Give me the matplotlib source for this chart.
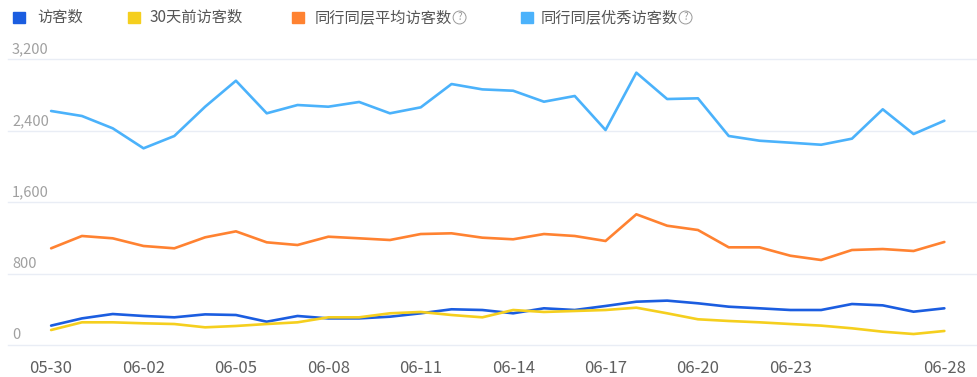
import matplotlib
matplotlib.use('Agg')
import matplotlib.pyplot as plt
import matplotlib.transforms as mtransforms

plt.rcParams['font.family'] = ['Noto Sans CJK SC', 'DejaVu Sans']

dates = ['05-30', '05-31'] + ['06-%02d' % d for d in range(1, 29)]
shown = ['05-30', '06-02', '06-05', '06-08', '06-11', '06-14', '06-17',
         '06-20', '06-23', '06-28']

visitors = [217, 298, 347, 325, 310, 343, 336, 261, 325, 298,
            298, 317, 355, 400, 392, 355, 411, 392, 437, 485,
            497, 467, 429, 411, 392, 392, 459, 444, 373, 411]
visitors_30d = [168, 254, 254, 243, 235, 198, 213, 235, 254, 310,
                310, 355, 370, 336, 310, 392, 370, 381, 392, 418,
                355, 288, 269, 254, 235, 217, 187, 149, 123, 157]
peer_avg = [1083, 1221, 1195, 1109, 1083, 1206, 1273, 1150, 1120, 1213,
            1195, 1176, 1243, 1251, 1202, 1184, 1243, 1221, 1165, 1464,
            1336, 1288, 1094, 1094, 1000, 952, 1064, 1075, 1053, 1154]
peer_top = [2621, 2565, 2427, 2203, 2341, 2669, 2960, 2595, 2688, 2669,
            2722, 2595, 2662, 2923, 2863, 2848, 2725, 2789, 2408, 3050,
            2755, 2763, 2341, 2288, 2266, 2243, 2311, 2640, 2363, 2512]

names = ['访客数', '30天前访客数', '同行同层平均访客数', '同行同层优秀访客数']
colors = ['#1b5de0', '#f5cf1e', '#ff8231', '#4bb2fb']
series = [visitors, visitors_30d, peer_avg, peer_top]
yticks = [0, 800, 1600, 2400, 3200]

W, H = 977, 377
fig = plt.figure(figsize=(W / 100, H / 100), dpi=100)
ax = fig.add_axes([8 / W, 32 / H, 1 - 8 / W, (345 - 59.3) / H])

x = list(range(len(dates)))
for vals, c in zip(series, colors):
    ax.plot(x, vals, color=c, lw=1.9, solid_joinstyle='round',
            solid_capstyle='round', zorder=3)

ax.set_xlim(-1.40, 30.06)
ax.set_ylim(0, 3200)
for s in ax.spines.values():
    s.set_visible(False)
for v in yticks:
    ax.axhline(v, color='#e9edf5', lw=1.0, zorder=1, clip_on=False)
ax.set_yticks([])

ax.set_xticks([dates.index(d) for d in shown])
ax.set_xticklabels(shown, fontsize=12, color='#5f5f5f')
ax.tick_params(axis='x', length=0, pad=11)

# y labels sit above the gridlines, left aligned
trans = mtransforms.blended_transform_factory(fig.transFigure, ax.transData)
offset = mtransforms.ScaledTranslation(0, 2 / 72, fig.dpi_scale_trans)
for v in yticks:
    ax.text(12 / W, v, f'{v:,}', transform=trans + offset, fontsize=10.5,
            color='#a0a0a0', ha='left', va='bottom')

# legend
sq_x = [13, 128, 292, 521]
tx_x = [37, 150, 315, 541]
ly = 1 - 17.5 / H
for i in range(4):
    fig.patches.append(plt.Rectangle(((sq_x[i]) / W, ly - 5.8 / H), 11.5 / W, 11.5 / H,
                                     transform=fig.transFigure, color=colors[i]))
    t = fig.text(tx_x[i] / W, ly, names[i], fontsize=11, color='#555555',
                 ha='left', va='center')
    if i >= 2:
        fig.canvas.draw()
        bb = t.get_window_extent()
        fig.text(bb.x1 / W + 0.0075, ly, '?', fontsize=7, color='#999999',
                 ha='center', va='center',
                 bbox=dict(boxstyle='circle,pad=0.15', fc='none', ec='#999999', lw=0.7))

fig.savefig('out.png', dpi=100)
